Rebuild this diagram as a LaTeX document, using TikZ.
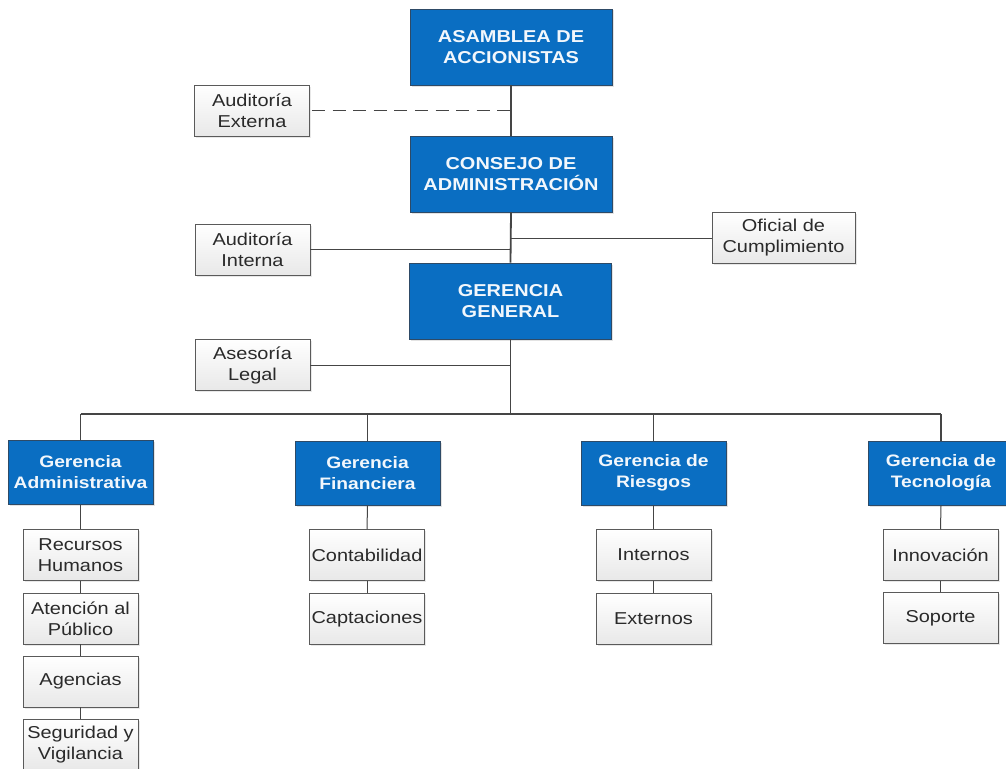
\documentclass[tikz,border=0pt]{standalone}
\usepackage{fontspec}
\setmainfont{Liberation Sans}[FakeStretch=1.16]
\usetikzlibrary{shadows}
\definecolor{bluebox}{HTML}{0A6EC2}
\definecolor{bluedraw}{HTML}{2E4A66}
\definecolor{linec}{HTML}{454545}
\definecolor{txt}{HTML}{2A2A2A}
\definecolor{wbdraw}{HTML}{5A5A5A}
\definecolor{bluetxt}{HTML}{F2F7FC}
\tikzset{
  bluebase/.style={rectangle, draw=bluedraw, line width=0.9pt, fill=bluebox, text=bluetxt,
    align=center, inner sep=0pt,
    drop shadow={opacity=0.22, shadow xshift=1.5pt, shadow yshift=-1.5pt}},
  bluetop/.style={bluebase, font=\fontsize{17.2}{21}\selectfont\bfseries,
    minimum width=202pt, minimum height=76pt},
  bluemid/.style={bluebase, font=\fontsize{16.6}{21}\selectfont\bfseries,
    minimum width=145pt, minimum height=64pt},
  whitebox/.style={rectangle, draw=wbdraw, line width=0.8pt, top color=white,
    bottom color=black!9, text=txt, align=center, inner sep=0pt,
    font=\fontsize{17.2}{21}\selectfont, minimum width=115pt, minimum height=51pt,
    drop shadow={opacity=0.18, shadow xshift=1.5pt, shadow yshift=-1.5pt}},
  trunk/.style={draw=linec, line width=1.8pt},
  thin/.style={draw=linec, line width=1pt},
}
\begin{document}
\begin{tikzpicture}[x=1pt,y=-1pt]
\fill[white] (0,0) rectangle (1006,768);
\useasboundingbox (0,0) rectangle (1006,768);

% top chain
\node[bluetop] (asam) at (511,47) {ASAMBLEA DE\\ACCIONISTAS};
\node[bluetop] (cons) at (511,174) {CONSEJO DE\\ADMINISTRACIÓN};
\node[bluetop] (gg) at (510.5,301) {GERENCIA\\GENERAL};

% staff boxes
\node[whitebox] (audext) at (252,110.5) {Auditoría\\Externa};
\node[whitebox] (audint) at (252.5,249.5) {Auditoría\\Interna};
\node[whitebox, minimum width=143pt] (ofic) at (783.5,238) {Oficial de\\Cumplimiento};
\node[whitebox] (aseso) at (252.5,365) {Asesoría\\Legal};

% managements
\node[bluemid] (gadm) at (80.5,472.5) {Gerencia\\Administrativa};
\node[bluemid] (gfin) at (367.5,473) {Gerencia\\Financiera};
\node[bluemid] (gries) at (653.5,473) {Gerencia de\\Riesgos};
\node[bluemid] (gtec) at (941,473) {Gerencia de\\Tecnología};

% sub units
\node[whitebox] (rh) at (80.5,555) {Recursos\\Humanos};
\node[whitebox] (aten) at (80.5,618.5) {Atención al\\Público};
\node[whitebox] (agen) at (80.5,681.5) {Agencias};
\node[whitebox] (segu) at (80.5,745) {Seguridad y\\Vigilancia};
\node[whitebox] (cont) at (367,555) {Contabilidad};
\node[whitebox] (capt) at (367,619) {Captaciones};
\node[whitebox] (inte) at (653.5,555) {Internos};
\node[whitebox] (exte) at (653.5,619) {Externos};
\node[whitebox] (inno) at (940.5,555) {Innovación};
\node[whitebox] (sopo) at (940.5,618) {Soporte};

% trunk
\coordinate (bus) at (510.5,414);
\draw[trunk] (asam.south) -- (cons.north);
\draw[trunk] (cons.south) -- (gg.north);
\draw[trunk] (gg.south) -- (bus);
\draw[trunk] (gadm.north |- bus) -- (gtec.north |- bus);
\draw[trunk] (gadm.north) -- (gadm.north |- bus);
\draw[trunk] (gfin.north) -- (gfin.north |- bus);
\draw[trunk] (gries.north) -- (gries.north |- bus);
\draw[trunk] (gtec.north) -- (gtec.north |- bus);

% staff connectors
\draw[thin, dash pattern=on 13pt off 7.6pt] ([xshift=2pt]audext.east) -- (audext.east -| asam.south);
\draw[thin] (audint.east) -- (audint.east -| cons.south);
\draw[thin] (ofic.west) -- (ofic.west -| cons.south);
\draw[thin] (aseso.east) -- (aseso.east -| gg.south);

% sub connectors
\draw[thin] (gadm.south) -- (rh.north);
\draw[thin] (rh.south) -- (aten.north);
\draw[thin] (aten.south) -- (agen.north);
\draw[thin] (agen.south) -- (segu.north);
\draw[thin] (gfin.south) -- (cont.north);
\draw[thin] (cont.south) -- (capt.north);
\draw[thin] (gries.south) -- (inte.north);
\draw[thin] (inte.south) -- (exte.north);
\draw[thin] (gtec.south) -- (inno.north);
\draw[thin] (inno.south) -- (sopo.north);
\end{tikzpicture}
\end{document}
